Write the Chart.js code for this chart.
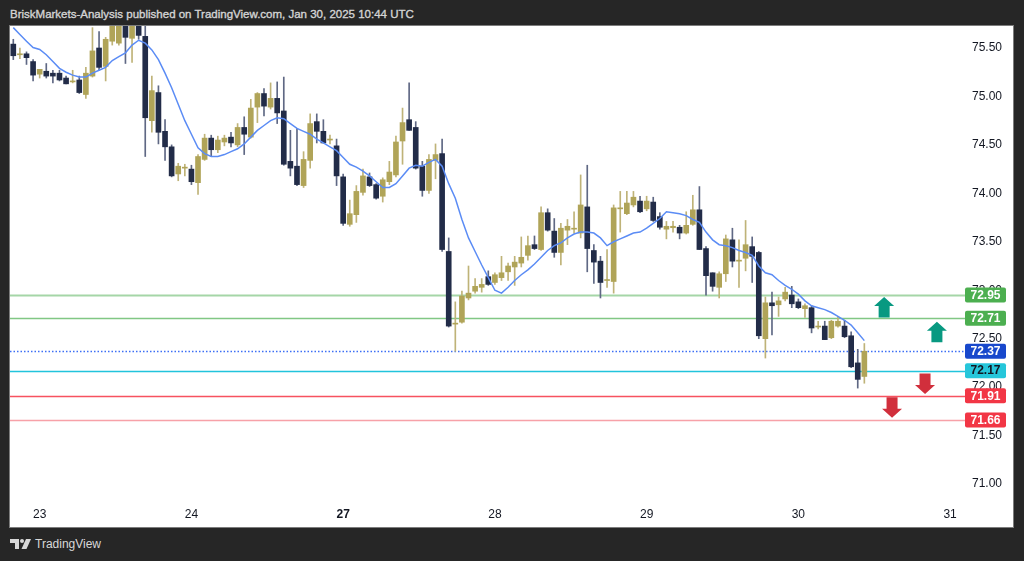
<!DOCTYPE html>
<html>
<head>
<meta charset="utf-8">
<script src="https://cdn.jsdelivr.net/npm/chart.js@4.4.1/dist/chart.umd.min.js"></script>
<style>
html, body { margin: 0; padding: 0; width: 1024px; height: 561px; overflow: hidden; background: #262626; font-family: "Liberation Sans", Arial, sans-serif; }
#title { position: absolute; left: 10px; top: 8px; color: #d4d4d4; font-size: 11.5px; -webkit-text-stroke: 0.35px #d4d4d4; white-space: nowrap; }
#pane { position: absolute; left: 10px; top: 26px; width: 1003px; height: 501px; background: #fff; box-shadow: 0 0 0 1px #7c7c7c; }
#footer { position: absolute; left: 10px; top: 537px; color: #d8d8d8; font-size: 12px; display: flex; align-items: center; gap: 3px; }
</style>
</head>
<body>
<div id="title">BriskMarkets-Analysis published on TradingView.com, Jan 30, 2025 10:44 UTC</div>
<div id="pane"><canvas id="chart" width="1003" height="501"></canvas></div>
<div id="footer">
  <svg width="22" height="12" viewBox="0 0 22 12"><path d="M0 1h9v10H5V5H0z" fill="#d8d8d8"/><circle cx="12" cy="3" r="2" fill="#d8d8d8"/><path d="M16 1h5l-4.5 10h-5z" fill="#d8d8d8"/></svg>
  <span>TradingView</span>
</div>
<script>
// hourly candles, index 0 = first bar on the left
const opens = [
  75.54,75.43,75.44,75.36,75.23,75.26,75.24,75.24,75.19,75.15,
  75.17,75.02,75.21,75.50,75.31,75.57,75.55,75.78,75.60,75.78,
  75.62,74.75,75.04,74.64,74.48,74.20,74.26,74.25,74.11,74.35,
  74.57,74.45,74.53,74.58,74.50,74.68,74.58,74.89,75.03,74.89,
  74.98,74.85,74.33,74.28,74.08,74.34,74.74,74.64,74.55,74.49,
  74.17,73.68,73.78,74.01,74.17,74.09,73.97,74.12,74.19,74.54,
  74.76,74.68,74.28,74.03,74.34,74.41,73.40,72.65,72.67,72.92,
  72.99,73.03,73.14,73.08,73.13,73.19,73.24,73.28,73.36,73.47,
  73.42,73.80,73.61,73.39,73.62,73.63,73.59,73.86,73.41,73.30,
  73.10,73.09,73.84,73.79,73.88,73.92,73.84,73.91,73.76,73.63,
  73.645,73.65,73.59,73.68,73.83,73.43,73.18,73.03,73.17,73.52,
  73.30,73.33,73.45,73.39,72.50,72.87,72.85,72.91,72.95,72.88,
  72.81,72.82,72.62,72.63,72.51,72.63,72.63,72.53,72.25,72.11
];
const highs = [
  75.59,75.50,75.46,75.38,75.28,75.34,75.27,75.27,75.21,75.27,
  75.21,75.30,75.71,75.67,75.61,75.85,75.85,75.82,75.80,75.82,
  75.78,75.21,75.11,74.76,74.50,74.31,74.30,74.29,74.40,74.61,
  74.60,74.59,74.60,74.63,74.72,74.79,74.97,75.04,75.08,75.14,
  75.15,75.20,74.65,74.67,74.43,74.82,74.82,74.76,74.60,74.56,
  74.20,73.93,74.08,74.25,74.21,74.10,74.16,74.33,74.59,74.88,
  75.14,74.74,74.33,74.40,74.51,74.56,73.54,72.88,72.99,73.25,
  73.12,73.12,73.20,73.18,73.35,73.28,73.35,73.55,73.56,73.56,
  73.86,73.84,73.74,73.69,73.73,73.81,74.19,74.29,73.47,73.35,
  73.42,73.88,74.02,74.02,74.02,73.97,73.97,73.96,73.80,73.71,
  73.71,73.67,73.81,73.98,74.07,73.45,73.18,73.19,73.57,73.64,
  73.52,73.72,73.55,73.40,72.93,72.98,72.93,73.03,73.04,72.91,
  72.86,72.84,72.68,72.68,72.69,72.73,72.69,72.57,72.39,72.45
];
const lows = [
  75.38,75.39,75.33,75.16,75.19,75.19,75.14,75.16,75.13,75.14,
  75.03,74.98,75.20,75.27,75.16,75.53,75.53,75.34,75.35,75.59,
  74.38,74.63,74.51,74.34,74.17,74.13,74.18,74.09,73.99,74.34,
  74.38,74.42,74.49,74.48,74.48,74.40,74.57,74.73,74.80,74.87,
  74.72,74.29,74.18,74.08,74.06,74.26,74.52,74.52,74.51,74.08,
  73.67,73.66,73.70,73.98,74.07,73.94,73.91,74.09,74.17,74.30,
  74.65,74.25,73.97,74.00,74.15,73.40,72.62,72.37,72.66,72.90,
  72.97,72.98,73.05,73.06,73.10,73.10,73.05,73.24,73.31,73.42,
  73.41,73.61,73.34,73.26,73.47,73.59,73.54,73.19,73.07,72.92,
  73.03,72.97,73.60,73.78,73.86,73.80,73.82,73.71,73.63,73.53,
  73.60,73.53,73.58,73.67,73.42,72.95,72.99,72.92,73.09,73.24,
  73.03,73.20,73.08,72.50,72.30,72.54,72.73,72.89,72.82,72.81,
  72.72,72.56,72.60,72.49,72.50,72.62,72.51,72.20,71.99,72.04
];
const closes = [
  75.42,75.44,75.40,75.22,75.28,75.21,75.21,75.17,75.13,75.16,
  75.04,75.24,75.47,75.30,75.59,75.78,75.78,75.61,75.78,75.63,
  74.78,75.06,74.63,74.48,74.18,74.28,74.27,74.12,74.38,74.57,
  74.45,74.55,74.57,74.52,74.68,74.61,74.88,75.03,74.90,74.98,
  74.83,74.30,74.26,74.09,74.35,74.72,74.64,74.52,74.56,74.18,
  73.69,73.79,74.02,74.18,74.08,73.95,74.14,74.22,74.53,74.73,
  74.65,74.26,74.03,74.35,74.40,73.42,72.63,72.66,72.94,72.97,
  73.04,73.06,73.06,73.16,73.18,73.25,73.29,73.34,73.46,73.43,
  73.80,73.62,73.39,73.64,73.66,73.64,73.88,73.43,73.29,73.08,
  73.11,73.85,73.85,73.90,73.96,73.81,73.92,73.72,73.65,73.66,
  73.66,73.59,73.67,73.83,73.42,73.15,73.04,73.17,73.53,73.30,
  73.31,73.47,73.35,72.53,72.87,72.84,72.89,72.98,72.86,72.82,
  72.84,72.61,72.63,72.49,72.68,72.68,72.52,72.21,72.08,72.37
];
// moving average line
const emaValues = [
  75.71,75.64,75.57,75.505,75.485,75.43,75.36,75.29,75.25,75.22,
  75.20,75.20,75.24,75.27,75.30,75.37,75.41,75.45,75.53,75.58,
  75.55,75.48,75.38,75.24,75.09,74.92,74.75,74.61,74.47,74.41,
  74.38,74.38,74.40,74.43,74.46,74.51,74.58,74.65,74.70,74.75,
  74.78,74.77,74.72,74.67,74.64,74.61,74.56,74.52,74.48,74.44,
  74.37,74.30,74.27,74.23,74.18,74.12,74.06,74.06,74.10,74.18,
  74.26,74.29,74.28,74.32,74.35,74.28,74.10,73.95,73.73,73.54,
  73.40,73.26,73.13,73.00,72.97,73.03,73.10,73.16,73.21,73.27,
  73.34,73.41,73.46,73.49,73.54,73.58,73.60,73.60,73.59,73.54,
  73.46,73.50,73.53,73.56,73.59,73.60,73.64,73.69,73.74,73.81,
  73.80,73.79,73.77,73.73,73.70,73.60,73.52,73.47,73.46,73.44,
  73.41,73.39,73.36,73.25,73.18,73.16,73.10,73.05,73.01,72.96,
  72.89,72.84,72.82,72.80,72.77,72.73,72.69,72.64,72.56,72.48
];

const dayLabels = ['23', '24', '27', '28', '29', '30', '31'];
const dayStartIdx = [4, 27, 50, 73, 96, 119, 142];
const priceTicks = [71.00, 71.50, 72.00, 72.50, 73.00, 73.50, 74.00, 74.50, 75.00, 75.50];

const levelPrices = [72.95, 72.71, 72.37, 72.17, 71.91, 71.66];
const arrowIdx = [132, 140, 138.2, 133.2];
const arrowPrice = [72.93, 72.675, 71.93, 71.685];
const arrowUp = [true, true, false, false];

const levelStyles = [
  { line: '#a5d6a7', width: 2, box: '#4caf50', text: '#ffffff' },
  { line: '#81c784', width: 1.5, box: '#4caf50', text: '#ffffff' },
  { line: '#3d6ff5', width: 1.3, dash: [1.5, 2], box: '#1848cc', text: '#ffffff' },
  { line: '#22c4dc', width: 1.3, box: '#26c6da', text: '#131722' },
  { line: '#f7525f', width: 1.5, box: '#f23645', text: '#ffffff' },
  { line: '#f7a1a8', width: 1.5, box: '#f23645', text: '#ffffff' }
];

const bullColor = '#b0a458';
const bearColor = '#222c48';
const bullWick = '#bfb378';
const bearWick = '#5f6884';

Chart.defaults.font.family = '"Liberation Sans", Arial, sans-serif';

const slots = Array.from({ length: 144 }, (_, i) => i);
const isUp = closes.map((c, i) => c >= opens[i]);

const overlay = {
  id: 'overlay',
  beforeDatasetsDraw(chart) {
    const { ctx, chartArea: a, scales: { y } } = chart;
    levelPrices.forEach((p, i) => {
      const s = levelStyles[i];
      const py = Math.round(y.getPixelForValue(p)) + 0.5;
      ctx.save();
      ctx.strokeStyle = s.line;
      ctx.lineWidth = s.width;
      ctx.setLineDash(s.dash || []);
      ctx.beginPath();
      ctx.moveTo(a.left, py);
      ctx.lineTo(a.right + 5, py);
      ctx.stroke();
      ctx.restore();
    });
  },
  afterDraw(chart) {
    const { ctx, chartArea: a, scales: { x, y } } = chart;
    // arrows pointing at the levels
    arrowIdx.forEach((idx, i) => {
      const cx = x.getPixelForValue(idx);
      const t = y.getPixelForValue(arrowPrice[i]);
      const d = arrowUp[i] ? 1 : -1;
      ctx.save();
      ctx.fillStyle = arrowUp[i] ? '#089981' : '#d12f3c';
      ctx.beginPath();
      ctx.moveTo(cx, t);
      ctx.lineTo(cx + 10, t + d * 9);
      ctx.lineTo(cx + 5.5, t + d * 9);
      ctx.lineTo(cx + 5.5, t + d * 20.5);
      ctx.lineTo(cx - 5.5, t + d * 20.5);
      ctx.lineTo(cx - 5.5, t + d * 9);
      ctx.lineTo(cx - 10, t + d * 9);
      ctx.closePath();
      ctx.fill();
      ctx.restore();
    });
    // price labels on the scale
    levelPrices.forEach((p, i) => {
      const s = levelStyles[i];
      const py = y.getPixelForValue(p);
      const bx = a.right + 5, bw = 41, bh = 15;
      ctx.save();
      ctx.fillStyle = s.box;
      ctx.beginPath();
      if (ctx.roundRect) ctx.roundRect(bx, py - bh / 2, bw, bh, 2);
      else ctx.rect(bx, py - bh / 2, bw, bh);
      ctx.fill();
      ctx.fillStyle = s.text;
      ctx.font = 'bold 12px "Liberation Sans", Arial, sans-serif';
      ctx.textAlign = 'center';
      ctx.textBaseline = 'middle';
      ctx.fillText(p.toFixed(2), bx + bw / 2, py + 0.5);
      ctx.restore();
    });
  }
};

new Chart(document.getElementById('chart'), {
  type: 'bar',
  data: {
    labels: slots,
    datasets: [
      {
        type: 'line',
        data: emaValues,
        borderColor: '#5b8cf5',
        borderWidth: 1.5,
        pointRadius: 0,
        tension: 0,
        order: 0,
        clip: 0
      },
      {
        data: opens.map((o, i) => [o, closes[i]]),
        backgroundColor: isUp.map(u => u ? bullColor : bearColor),
        barThickness: 5,
        minBarLength: 1,
        grouped: false,
        order: 1,
        clip: 0
      },
      {
        data: lows.map((l, i) => [l, highs[i]]),
        backgroundColor: isUp.map(u => u ? bullWick : bearWick),
        barThickness: 1,
        grouped: false,
        order: 2,
        clip: 0
      }
    ]
  },
  options: {
    responsive: false,
    animation: false,
    events: [],
    layout: { padding: 0 },
    plugins: { legend: { display: false }, tooltip: { enabled: false } },
    scales: {
      x: {
        type: 'category',
        offset: true,
        grid: { display: false, drawTicks: false },
        border: { display: false },
        afterBuildTicks: s => { s.ticks = dayStartIdx.map(v => ({ value: v })); },
        afterFit: s => { s.height = 27; s.paddingLeft = 0; s.paddingRight = 0; },
        ticks: {
          autoSkip: false,
          maxRotation: 0,
          padding: 7,
          color: '#131722',
          font: c => ({ size: 12, weight: c.tick && c.tick.value === 50 ? 'bold' : 'normal' }),
          callback: v => dayLabels[dayStartIdx.indexOf(v)]
        }
      },
      y: {
        position: 'right',
        min: 70.835,
        max: 75.727,
        grid: { display: false, drawTicks: false },
        border: { display: false },
        afterBuildTicks: s => { s.ticks = priceTicks.map(v => ({ value: v })); },
        afterFit: s => { s.width = 53; s.paddingTop = 0; s.paddingBottom = 0; },
        ticks: {
          padding: 12,
          color: '#131722',
          font: { size: 12 },
          callback: v => v.toFixed(2)
        }
      }
    }
  },
  plugins: [overlay]
});
</script>
</body>
</html>
